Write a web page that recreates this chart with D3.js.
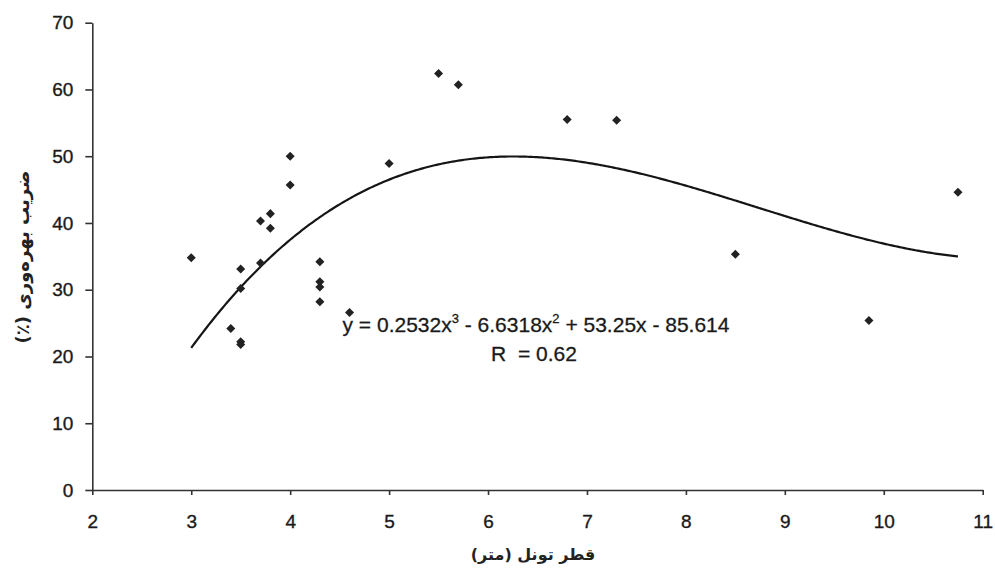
<!DOCTYPE html>
<html>
<head>
<meta charset="utf-8">
<script src="https://cdn.jsdelivr.net/npm/d3@7"></script>
<style>
  html, body { margin: 0; padding: 0; background: #fff; }
  svg { display: block; }
  .tick text { font-family: "Liberation Sans", Arial, sans-serif; font-size: 19px; fill: #1a1a1a; stroke: #1a1a1a; stroke-width: 0.35; }
  .domain, .tick line { stroke: #333; stroke-width: 1.6; }
</style>
</head>
<body>
<script>
// ---- data ----
const diameter = [3.0, 3.4, 3.5, 3.5, 3.5, 3.5, 3.7, 3.7, 3.8, 3.8, 4.0, 4.0, 4.3, 4.3, 4.3, 4.3, 4.6, 5.0, 5.5, 5.7, 6.8, 7.3, 8.5, 9.85, 10.75];
const productivity = [34.8, 24.2, 22.2, 21.8, 30.2, 33.1, 34.0, 40.3, 41.4, 39.2, 50.0, 45.7, 34.2, 31.2, 30.4, 28.2, 26.6, 48.9, 62.4, 60.7, 55.5, 55.4, 35.3, 25.4, 44.6];
// printed trendline: y = 0.2532x^3 - 6.6318x^2 + 53.25x - 85.614
const trendCoef = [0.2532, -6.6318, 53.25, -85.614];
const xTicks = [2, 3, 4, 5, 6, 7, 8, 9, 10, 11];
const yTicks = [0, 10, 20, 30, 40, 50, 60, 70];
const xTitle = "قطر تونل (متر)";
const yTitle = "ضریب بهره‌وری (٪)";
const eqText = ["y = 0.2532x", "3", " - 6.6318x", "2", " + 53.25x - 85.614"];
const rText = "R  = 0.62";

const W = 995, H = 569;
const svg = d3.select("body").append("svg").attr("width", W).attr("height", H);

const x = d3.scaleLinear().domain([2, 11]).range([92.3, 982.7]);
const y = d3.scaleLinear().domain([0, 70]).range([490, 22.7]);

// axes
svg.append("g")
  .attr("transform", `translate(0,${y(0)})`)
  .call(d3.axisBottom(x).tickValues(xTicks).tickSize(5).tickPadding(20).tickSizeOuter(0).tickFormat(d3.format("d")));

svg.append("g")
  .attr("transform", `translate(${x(2)},0)`)
  .call(d3.axisLeft(y).tickValues(yTicks).tickSize(7).tickPadding(12).tickSizeOuter(0).tickFormat(d3.format("d")));

// trendline
const [xmin, xmax] = d3.extent(diameter);
const poly = v => trendCoef.reduce((acc, c) => acc * v + c, 0);
const xs = d3.range(xmin, xmax, 0.02).concat([xmax]);
svg.append("path")
  .datum(xs)
  .attr("fill", "none")
  .attr("stroke", "#151515")
  .attr("stroke-width", 2.2)
  .attr("d", d3.line().x(d => x(d)).y(d => y(poly(d))));

// points
const pts = diameter.map((d, i) => [d, productivity[i]]);
svg.append("g").selectAll("path")
  .data(pts)
  .join("path")
  .attr("transform", d => `translate(${x(d[0])},${y(d[1])})`)
  .attr("d", d3.symbol().type(d3.symbolDiamond2).size(52))
  .attr("fill", "#222");

// equation label
const eq = svg.append("text")
  .attr("x", 536).attr("y", 332)
  .attr("text-anchor", "middle")
  .style("font-family", "'Liberation Sans', Arial, sans-serif")
  .style("font-size", "21px")
  .attr("fill", "#1a1a1a")
  .attr("stroke", "#1a1a1a")
  .attr("stroke-width", 0.3);
eqText.forEach((t, i) => {
  const ts = eq.append("tspan").text(t);
  if (i % 2 === 1) ts.attr("font-size", "13px").attr("dy", -9);
  else if (i > 0) ts.attr("dy", 9);
});

svg.append("text")
  .attr("x", 534).attr("y", 361)
  .attr("text-anchor", "middle")
  .attr("xml:space", "preserve")
  .style("white-space", "pre")
  .style("font-family", "'Liberation Sans', Arial, sans-serif")
  .style("font-size", "21px")
  .attr("fill", "#1a1a1a")
  .attr("stroke", "#1a1a1a")
  .attr("stroke-width", 0.3)
  .text(rText);

// axis titles
svg.append("text")
  .attr("x", 533).attr("y", 560)
  .attr("text-anchor", "middle")
  .attr("direction", "rtl")
  .style("font-family", "'DejaVu Sans', sans-serif")
  .style("font-size", "16px")
  .style("font-weight", "bold")
  .attr("fill", "#222")
  .text(xTitle);

svg.append("text")
  .attr("transform", "translate(29,257) rotate(-90)")
  .attr("text-anchor", "middle")
  .attr("direction", "rtl")
  .style("font-family", "'DejaVu Sans', sans-serif")
  .style("font-size", "18px")
  .style("font-weight", "bold")
  .attr("fill", "#222")
  .text(yTitle);
</script>
</body>
</html>
